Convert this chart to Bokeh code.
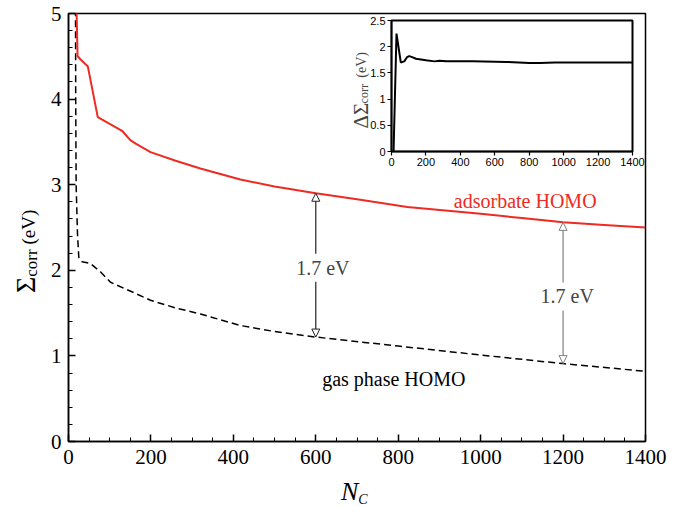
import numpy as np
from bokeh.plotting import figure
from bokeh.models import (Range1d, FixedTicker, Label, Arrow, NormalHead, Column, Div,
                          CustomJSTickFormatter)
from bokeh.embed import file_html
from bokeh.resources import INLINE

# ---------------- data ----------------
nc_ads = [19.5, 22, 30, 47, 71, 100, 130, 150, 163, 199, 260, 320, 417, 500,
          600, 700, 822, 1000, 1100, 1200, 1300, 1400]
sigma_ads = [5.05, 4.50, 4.46, 4.38, 3.79, 3.71, 3.63, 3.52, 3.48, 3.38, 3.28, 3.19,
             3.06, 2.98, 2.90, 2.83, 2.74, 2.66, 2.61, 2.56, 2.53, 2.50]

nc_gas = [17, 17.5, 18.5, 21.8, 25, 33, 53, 78, 102, 158, 199, 260, 320, 417, 500,
          600, 800, 1000, 1200, 1400]
sigma_gas = [5.05, 4.0, 3.0, 2.43, 2.15, 2.10, 2.08, 1.98, 1.86, 1.74, 1.65, 1.56,
             1.49, 1.355, 1.285, 1.22, 1.115, 1.01, 0.91, 0.82]

nc_diff = [12, 29, 54, 74, 90, 103, 120, 142, 200, 250, 278, 320, 472, 667, 800,
           861, 950, 1056, 1200, 1400]
delta_sigma = [0.0, 2.25, 1.70, 1.72, 1.80, 1.82, 1.80, 1.77, 1.74, 1.72, 1.73, 1.72,
               1.72, 1.71, 1.69, 1.69, 1.70, 1.70, 1.70, 1.70]

arrow_nc = [600, 1200]
arrow_lo = [1.22, 0.91]
arrow_hi = [2.90, 2.56]
gap_text = "1.7 eV"

main_xticks = [0, 200, 400, 600, 800, 1000, 1200, 1400]
main_yticks = [0, 1, 2, 3, 4, 5]
inset_xticks = [0, 200, 400, 600, 800, 1000, 1200, 1400]
inset_yticks = [0, 0.5, 1, 1.5, 2, 2.5]

RED = "#ee2a22"
SERIF = "Liberation Serif"
SANS = "Liberation Sans"

# ---------------- main figure ----------------
p = figure(frame_width=577, frame_height=428, min_border_left=68, min_border_right=37,
           min_border_top=13, min_border_bottom=65,
           x_range=Range1d(0, 1400), y_range=Range1d(0, 5),
           output_backend="svg", toolbar_location=None)
p.grid.visible = False
p.outline_line_color = "black"
p.outline_line_width = 1.5

p.xaxis.ticker = FixedTicker(ticks=main_xticks,
                             minor_ticks=list(np.arange(0, 1401, 50)))
p.yaxis.ticker = FixedTicker(ticks=main_yticks,
                             minor_ticks=list(np.round(np.arange(0, 5.01, 0.2), 2)))
for ax in (p.xaxis[0], p.yaxis[0]):
    ax.axis_line_width = 1.5
    ax.major_tick_line_width = 1.5
    ax.minor_tick_line_width = 1
    ax.major_tick_in = 7
    ax.major_tick_out = 0
    ax.minor_tick_in = 4
    ax.minor_tick_out = 0
    ax.major_label_text_font = SERIF
    ax.major_label_text_font_size = "21px"
    ax.major_label_text_color = "black"
p.xaxis.major_label_standoff = 8
p.yaxis.major_label_standoff = 7

p.line(nc_gas, sigma_gas, line_color="black", line_width=1.5, line_dash="7 4")
p.line(nc_ads, sigma_ads, line_color=RED, line_width=2)

arrow_colors = ["#222222", "#808080"]
for xv, lo, hi, col in zip(arrow_nc, arrow_lo, arrow_hi, arrow_colors):
    p.add_layout(Arrow(x_start=xv, y_start=lo, x_end=xv, y_end=hi,
                       start=NormalHead(size=8, fill_color="white", line_color=col, line_width=1),
                       end=NormalHead(size=8, fill_color="white", line_color=col, line_width=1),
                       line_color=col, line_width=1.2))

gap_pos = [(617, 2.03), (1210, 1.695)]
for (gx, gy) in gap_pos:
    p.add_layout(Label(x=gx, y=gy, text=gap_text, text_font=SERIF, text_font_size="20px",
                       text_align="center", text_baseline="alphabetic",
                       background_fill_color="white", padding=3))

p.add_layout(Label(x=935, y=2.815, text="adsorbate HOMO", text_font=SERIF,
                   text_font_size="20px", text_color=RED, text_baseline="alphabetic"))
p.add_layout(Label(x=615.5, y=0.732, text="gas phase HOMO", text_font=SERIF,
                   text_font_size="20px", text_color="black", text_baseline="alphabetic"))

# inset axis title (lies inside the main frame)
p.add_layout(Label(x=710, y=3.657, text="ΔΣ", text_font=SERIF, text_font_size="21px",
                   angle=np.pi / 2, text_baseline="alphabetic"))
p.add_layout(Label(x=716, y=3.95, text="corr", text_font=SERIF, text_font_size="12px",
                   angle=np.pi / 2, text_baseline="alphabetic"))
p.add_layout(Label(x=712, y=4.25, text="(eV)", text_font=SERIF, text_font_size="14px",
                   angle=np.pi / 2, text_baseline="alphabetic"))

# ---------------- inset ----------------
inset = figure(frame_width=241, frame_height=131, min_border_left=68, min_border_right=37,
               min_border_top=6, min_border_bottom=22,
               x_range=Range1d(0, 1400), y_range=Range1d(0, 2.5),
               output_backend="svg", toolbar_location=None,
               styles={"position": "absolute", "left": "323px", "top": "14px"})
inset.grid.visible = False
inset.background_fill_alpha = 0
inset.border_fill_alpha = 0
inset.outline_line_color = "black"
inset.outline_line_width = 2
inset.xaxis.ticker = FixedTicker(ticks=inset_xticks, minor_ticks=[])
inset.yaxis.ticker = FixedTicker(ticks=inset_yticks, minor_ticks=[])
inset.yaxis.formatter = CustomJSTickFormatter(code="return tick.toString();")
for ax in (inset.xaxis[0], inset.yaxis[0]):
    ax.axis_line_width = 1.5
    ax.major_tick_line_width = 1.2
    ax.major_tick_in = 0
    ax.major_tick_out = 4
    ax.major_label_text_font = SANS
    ax.major_label_text_font_size = "11px"
    ax.major_label_text_color = "black"
    ax.major_label_standoff = 2
inset.line(nc_diff, delta_sigma, line_color="black", line_width=2)

# ---------------- main axis titles (with subscripts) ----------------
ytitle = Div(text=('<span style="font-size:28px">Σ</span>'
                   '<span style="font-size:17px;vertical-align:-2px">corr</span>'
                   '<span style="font-size:19px">&nbsp;(eV)</span>'),
             styles={"position": "absolute", "left": "10px", "top": "293px",
                     "transform": "rotate(-90deg)", "transform-origin": "left top",
                     "white-space": "nowrap", "font-family": SERIF, "color": "black",
                     "line-height": "normal", "margin": "0", "padding": "0"})
xtitle = Div(text=('<i style="font-size:26px">N</i>'
                   '<i style="font-size:14px;vertical-align:-4px">C</i>'),
             styles={"position": "absolute", "left": "341px", "top": "477px",
                     "white-space": "nowrap", "font-family": SERIF, "color": "black",
                     "line-height": "normal", "margin": "0", "padding": "0"})

layout = Column(p, inset, ytitle, xtitle)

open("out.html", "w").write(file_html(layout, INLINE))
